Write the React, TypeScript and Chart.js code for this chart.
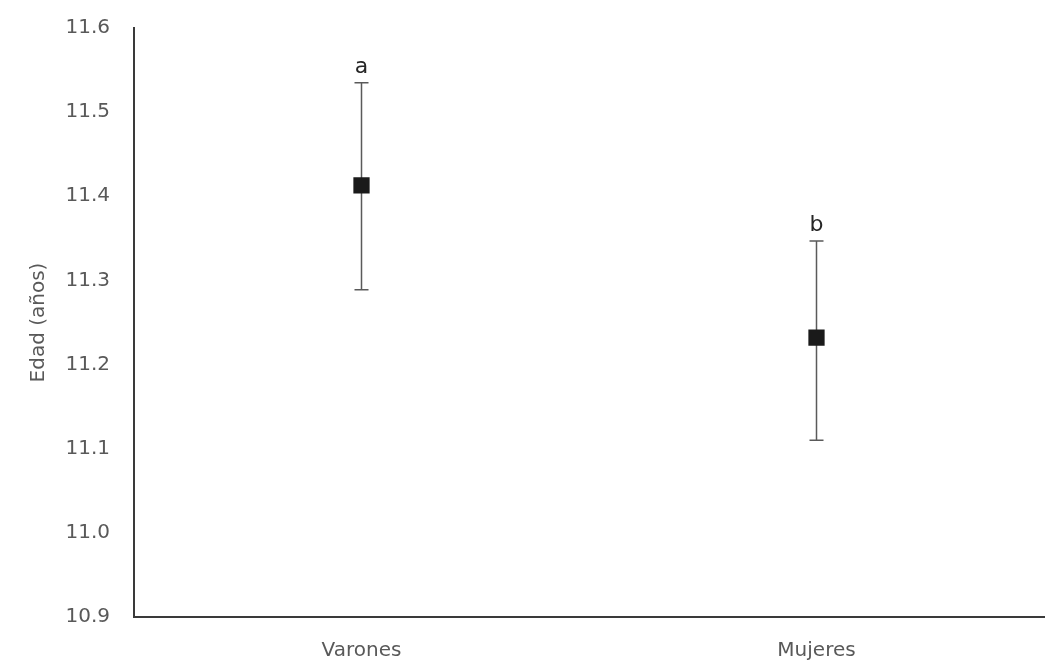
import React, { useEffect, useRef } from "react";
import { Chart, registerables } from "chart.js";

Chart.register(...registerables);

const categories = ["Varones", "Mujeres"];
const means = [11.413, 11.232];
const upper = [11.535, 11.347];
const lower = [11.289, 11.11];
const letters = ["a", "b"];
const yTicks = [10.9, 11.0, 11.1, 11.2, 11.3, 11.4, 11.5, 11.6];
const yTitle = "Edad (años)";

const FONT = "'DejaVu Sans', sans-serif";

const errorBarPlugin = {
  id: "errorBars",
  beforeDatasetsDraw(chart: any) {
    const ctx = chart.ctx;
    const x = chart.scales.x;
    const y = chart.scales.y;
    ctx.save();
    ctx.strokeStyle = "#5a5a5a";
    ctx.lineWidth = 1.5;
    categories.forEach((_, i) => {
      const px = x.getPixelForValue(i);
      const pu = y.getPixelForValue(upper[i]);
      const pl = y.getPixelForValue(lower[i]);
      ctx.beginPath();
      ctx.moveTo(px, pu);
      ctx.lineTo(px, pl);
      ctx.moveTo(px - 7, pu);
      ctx.lineTo(px + 7, pu);
      ctx.moveTo(px - 7, pl);
      ctx.lineTo(px + 7, pl);
      ctx.stroke();
    });
    ctx.restore();
  },
  afterDatasetsDraw(chart: any) {
    const ctx = chart.ctx;
    const x = chart.scales.x;
    const y = chart.scales.y;
    ctx.save();
    ctx.fillStyle = "#262626";
    ctx.font = `22px ${FONT}`;
    ctx.textAlign = "center";
    ctx.textBaseline = "alphabetic";
    letters.forEach((t, i) => {
      const px = x.getPixelForValue(i);
      const pu = y.getPixelForValue(upper[i]);
      ctx.fillText(t, px, pu - 10);
    });
    ctx.restore();
  },
};

export default function App() {
  const ref = useRef<HTMLCanvasElement>(null);
  useEffect(() => {
    if (!ref.current) return;
    const chart = new Chart(ref.current, {
      type: "line",
      data: {
        labels: categories,
        datasets: [
          {
            data: means,
            showLine: false,
            pointStyle: "rect",
            pointRadius: 11.5,
            pointBackgroundColor: "#1a1a1a",
            pointBorderColor: "#1a1a1a",
            pointBorderWidth: 0,
          },
        ],
      },
      options: {
        animation: false,
        responsive: false,
        layout: { padding: { top: 28, right: 15, left: 0, bottom: 0 } },
        plugins: { legend: { display: false }, tooltip: { enabled: false } },
        scales: {
          x: {
            offset: true,
            grid: { display: false, drawTicks: false },
            border: { display: true, color: "#3a3a3a", width: 2 },
            ticks: { color: "#595959", font: { family: FONT, size: 20 }, padding: 22 },
            afterFit(scale: any) {
              scale.height = 51;
            },
          },
          y: {
            min: 10.9,
            max: 11.6,
            grid: { display: false, drawTicks: false },
            border: { display: true, color: "#3a3a3a", width: 2 },
            afterBuildTicks(scale: any) {
              scale.ticks = yTicks.map((v) => ({ value: v }));
            },
            ticks: {
              color: "#595959",
              font: { family: FONT, size: 20 },
              padding: 24,
              callback: (v: any) => Number(v).toFixed(1),
            },
            title: {
              display: true,
              text: yTitle,
              color: "#595959",
              font: { family: FONT, size: 20 },
              padding: { top: 27, bottom: 0 },
            },
            afterFit(scale: any) {
              scale.width = 134;
              scale.paddingTop = 12;
              scale.paddingBottom = 12;
            },
          },
        },
      },
      plugins: [errorBarPlugin],
    });
    return () => chart.destroy();
  }, []);
  return (
    <div style={{ position: "fixed", left: 0, top: 0, width: 1059, height: 668, background: "#fff" }}>
      <canvas ref={ref} width={1059} height={668} style={{ width: 1059, height: 668, display: "block" }} />
    </div>
  );
}
